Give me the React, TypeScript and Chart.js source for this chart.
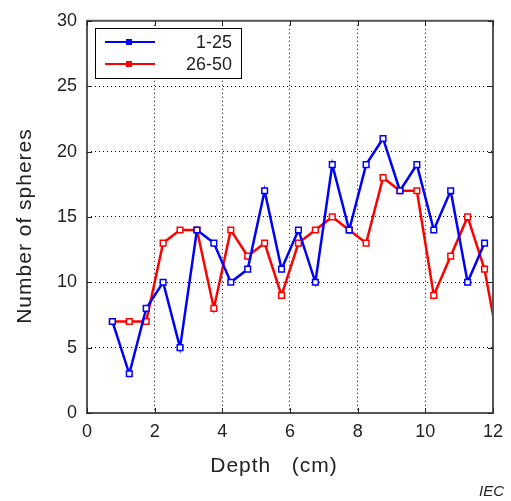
import React, { useEffect, useRef } from "react";
import { Chart, registerables } from "chart.js";
Chart.register(...registerables);

const depths = [0.75, 1.25, 1.75, 2.25, 2.75, 3.25, 3.75, 4.25, 4.75, 5.25, 5.75, 6.25, 6.75, 7.25, 7.75, 8.25, 8.75, 9.25, 9.75, 10.25, 10.75, 11.25, 11.75, 12.25];
const seriesA = [7, 3, 8, 10, 5, 14, 13, 10, 11, 17, 11, 14, 10, 19, 14, 19, 21, 17, 19, 14, 17, 10, 13];
const seriesB = [7, 7, 7, 13, 14, 14, 8, 14, 12, 13, 9, 13, 14, 15, 14, 13, 18, 17, 17, 9, 12, 15, 11, 4];
const seriesNames = ["1-25", "26-50"];
const seriesColors = ["#0000ff", "#ff0000"];
const xTicks = [0, 2, 4, 6, 8, 10, 12];
const yTicks = [0, 5, 10, 15, 20, 25, 30];
const xTitle = "Depth   (cm)";
const yTitle = "Number of spheres";
const sourceNote = "IEC";

const FONT = "'Liberation Sans', Arial, sans-serif";

const framePlugin = {
  id: "frame",
  afterDatasetsDraw(chart: any) {
    const { ctx, chartArea: a, scales } = chart;
    ctx.save();
    ctx.strokeStyle = "#555";
    ctx.lineWidth = 2;
    ctx.strokeRect(a.left, a.top, a.right - a.left, a.bottom - a.top);
    ctx.lineWidth = 1;
    ctx.strokeStyle = "#222";
    const L = 5;
    ctx.beginPath();
    xTicks.forEach((t) => {
      const x = Math.round(scales.x.getPixelForValue(t)) + 0.5;
      ctx.moveTo(x, a.bottom); ctx.lineTo(x, a.bottom - L);
      ctx.moveTo(x, a.top); ctx.lineTo(x, a.top + L);
    });
    yTicks.forEach((t) => {
      const y = Math.round(scales.y.getPixelForValue(t)) + 0.5;
      ctx.moveTo(a.left, y); ctx.lineTo(a.left + L, y);
      ctx.moveTo(a.right, y); ctx.lineTo(a.right - L, y);
    });
    ctx.stroke();
    ctx.restore();
  },
  afterDraw(chart: any) {
    const { ctx } = chart;
    ctx.save();
    // legend
    const bx = 95, by = 28, bw = 146, bh = 50;
    ctx.fillStyle = "#fff";
    ctx.fillRect(bx, by, bw, bh);
    ctx.strokeStyle = "#000";
    ctx.lineWidth = 1;
    ctx.strokeRect(bx + 0.5, by + 0.5, bw, bh);
    seriesNames.forEach((name, i) => {
      const y = by + 14 + i * 22;
      ctx.strokeStyle = seriesColors[i];
      ctx.lineWidth = 2;
      ctx.beginPath();
      ctx.moveTo(105, y); ctx.lineTo(155, y);
      ctx.stroke();
      ctx.fillStyle = seriesColors[i];
      ctx.fillRect(126, y - 3, 6, 6);
      ctx.fillStyle = "#222";
      ctx.font = `18px ${FONT}`;
      ctx.textAlign = "right";
      ctx.textBaseline = "middle";
      ctx.fillText(name, 232, y + 1);
    });
    // titles
    ctx.fillStyle = "#222";
    ctx.font = `21px ${FONT}`;
    (ctx as any).letterSpacing = "1px";
    ctx.textAlign = "center";
    ctx.textBaseline = "middle";
    ctx.fillText(xTitle, 274, 466);
    ctx.save();
    ctx.translate(25, 226);
    ctx.rotate(-Math.PI / 2);
    ctx.fillText(yTitle, 0, 0);
    ctx.restore();
    (ctx as any).letterSpacing = "0px";
    ctx.font = `italic 15px ${FONT}`;
    ctx.textAlign = "right";
    ctx.fillText(sourceNote, 504, 492);
    ctx.restore();
  },
};

export default function App() {
  const ref = useRef<HTMLCanvasElement | null>(null);
  useEffect(() => {
    if (!ref.current) return;
    const mk = (vals: number[], i: number) => ({
      label: seriesNames[i],
      data: vals.map((v, k) => ({ x: depths[k], y: v })),
      borderColor: seriesColors[i],
      backgroundColor: "#ffffff",
      borderWidth: 2.5,
      pointStyle: "rect",
      pointRadius: 4,
      pointBorderWidth: 1.5,
      pointBorderColor: seriesColors[i],
      pointBackgroundColor: "#ffffff",
      tension: 0,
      clip: 0,
    });
    const chart = new Chart(ref.current, {
      type: "line",
      data: { datasets: [mk(seriesA, 0), mk(seriesB, 1)] },
      options: {
        animation: false,
        responsive: false,
        devicePixelRatio: 1,
        layout: { padding: { left: 0, top: 18, right: 12, bottom: 0 } },
        plugins: { legend: { display: false }, tooltip: { enabled: false } },
        scales: {
          x: {
            type: "linear",
            min: 0,
            max: 12,
            afterFit: (s: any) => { s.height = 88; },
            afterBuildTicks: (s: any) => { s.ticks = xTicks.map((v) => ({ value: v })); },
            ticks: { color: "#222", font: { family: FONT, size: 18 }, padding: 8 },
            grid: { color: "#000", lineWidth: 1, drawTicks: false },
            border: { display: false, dash: [1, 3] },
          },
          y: {
            type: "linear",
            min: 0,
            max: 30,
            afterFit: (s: any) => { s.width = 87; },
            afterBuildTicks: (s: any) => { s.ticks = yTicks.map((v) => ({ value: v })); },
            ticks: { color: "#222", font: { family: FONT, size: 18 }, padding: 10 },
            grid: { color: "#000", lineWidth: 1, drawTicks: false },
            border: { display: false, dash: [1, 3] },
          },
        },
      },
      plugins: [framePlugin],
    } as any);
    return () => chart.destroy();
  }, []);
  return (
    <div style={{ position: "fixed", left: 0, top: 0, width: 511, height: 501, background: "#fff" }}>
      <canvas ref={ref} width={511} height={501} style={{ display: "block" }} />
    </div>
  );
}
